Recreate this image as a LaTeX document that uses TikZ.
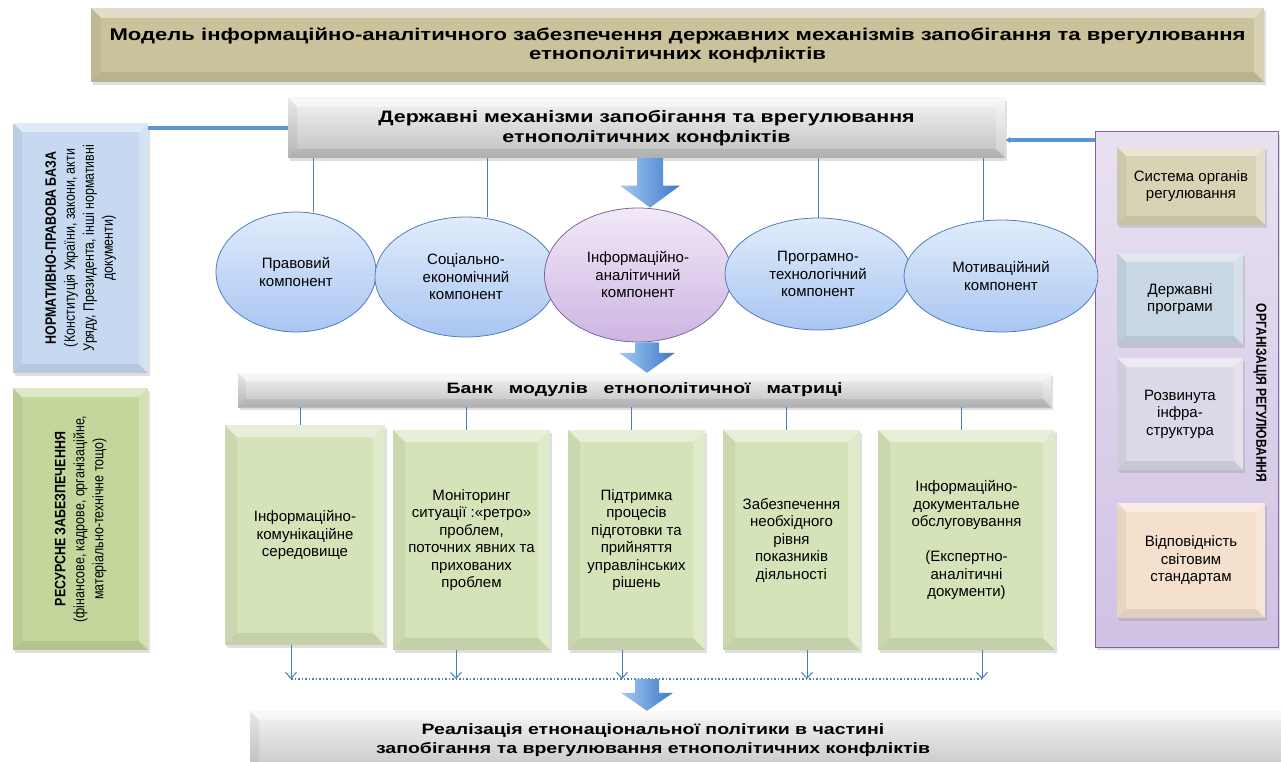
\documentclass[tikz,border=0pt]{standalone}
\usepackage{fontspec}
\setmainfont{Liberation Sans}
\newfontfamily\wideb[FakeStretch=1.3]{Liberation Sans}
\newfontfamily\narr[FakeStretch=0.83]{Liberation Sans}
\usetikzlibrary{shadows,arrows.meta,shapes.geometric,calc}

\definecolor{khaki}{HTML}{C9C29B}
\definecolor{greyt}{HTML}{F4F4F4}
\definecolor{greyb}{HTML}{BFBFBF}
\definecolor{lblue}{HTML}{C6D9F1}
\definecolor{lgreen}{HTML}{C3D69B}
\definecolor{mgreen}{HTML}{D5E3B9}
\definecolor{pant}{HTML}{E9E1F2}
\definecolor{panb}{HTML}{CFC2E4}
\definecolor{purp}{HTML}{8064A2}
\definecolor{rone}{HTML}{D9D3B6}
\definecolor{rtwo}{HTML}{C9D6E4}
\definecolor{rthree}{HTML}{DCD8E8}
\definecolor{rfour}{HTML}{F5E0CD}
\definecolor{ellt}{HTML}{E1ECFB}
\definecolor{ellb}{HTML}{A9C6F2}
\definecolor{elld}{HTML}{4F7EC0}
\definecolor{infot}{HTML}{F1E9F7}
\definecolor{infob}{HTML}{CDB5E3}
\definecolor{lineblue}{HTML}{4A7EBB}
\definecolor{thickblue}{HTML}{5B95D5}
\definecolor{arrl}{HTML}{A4CAF4}
\definecolor{arrd}{HTML}{3D78C6}

\newcommand\titlef{\wideb\fontsize{17}{19}\selectfont\bfseries}
\newcommand\mechf{\wideb\fontsize{16.5}{20}\selectfont\bfseries}
\newcommand\bankf{\wideb\fontsize{15}{18}\selectfont\bfseries}
\newcommand\botf{\wideb\fontsize{15}{18.5}\selectfont\bfseries}
\newcommand\regf{\fontsize{15}{17.5}\selectfont}
\newcommand\rotf{\narr\fontsize{15}{19}\selectfont}
\newcommand\orgf{\narr\fontsize{14.5}{17}\selectfont\bfseries}

\newcommand\bevelbands[1]{%
 \fill[white,opacity=.45] (path picture bounding box.north west) -- (path picture bounding box.north east) -- ([shift={(-#1,#1)}]path picture bounding box.north east) -- ([shift={(#1,#1)}]path picture bounding box.north west) -- cycle;
 \fill[black,opacity=.05] (path picture bounding box.north west) -- ([shift={(#1,#1)}]path picture bounding box.north west) -- ([shift={(#1,-#1)}]path picture bounding box.south west) -- (path picture bounding box.south west) -- cycle;
 \fill[black,opacity=.08] (path picture bounding box.south west) -- ([shift={(#1,-#1)}]path picture bounding box.south west) -- ([shift={(-#1,-#1)}]path picture bounding box.south east) -- (path picture bounding box.south east) -- cycle;
 \fill[white,opacity=.25] (path picture bounding box.north east) -- ([shift={(-#1,#1)}]path picture bounding box.north east) -- ([shift={(-#1,-#1)}]path picture bounding box.south east) -- (path picture bounding box.south east) -- cycle;
}

\newcommand\bigarr[5]{%
 \path[bigarrow] let \p1=#1, \p2=#2 in
 (\x1-#5pt,\y1) -- (\x1+#5pt,\y1) -- (\x1+#5pt,\y2+#3pt) -- (\x1+#4pt,\y2+#3pt) -- (\x1,\y2) -- (\x1-#4pt,\y2+#3pt) -- (\x1-#5pt,\y2+#3pt) -- cycle;}

\tikzset{
 box/.style={rectangle, inner sep=0pt, align=center, drop shadow={opacity=.25,shadow xshift=2pt,shadow yshift=-3pt}},
 bevel/.style={path picture={\bevelbands{#1}}}, bevel/.default=9,
 ell/.style={ellipse, draw=elld, line width=.8pt, top color=ellt, bottom color=ellb, inner sep=0pt, align=center, font=\regf},
 thinline/.style={draw=lineblue, line width=1pt},
 thickline/.style={draw=thickblue, line width=3.5pt},
 dotline/.style={draw=lineblue, line width=1.5pt, dotted},
 bigarrow/.style={left color=arrl, right color=arrd, draw=none},
 downtip/.style={-{Straight Barb[length=6pt,width=11pt]}}
}

\begin{document}
\begin{tikzpicture}[x=1pt,y=-1pt]
\useasboundingbox (0,0) rectangle (1281,762);

% title
\node[box,bevel=10,fill=khaki,minimum width=1173pt,minimum height=74pt,font=\titlef] (title) at (677.5,45)
 {Модель інформаційно-аналітичного забезпечення державних механізмів запобігання та врегулювання\\етнополітичних конфліктів};

% mechanisms
\node[box,bevel=9,top color=greyt,bottom color=greyb,minimum width=717pt,minimum height=60pt,font=\mechf] (mech) at (646.5,128)
 {Державні механізми запобігання та врегулювання\\етнополітичних конфліктів};

% left boxes
\node[box,bevel=9,fill=lblue,minimum width=135pt,minimum height=250pt] (L1) at (80.5,248)
 {\rotatebox{90}{\rotf\begin{tabular}{@{}c@{}}\bfseries НОРМАТИВНО-ПРАВОВА БАЗА\\(Конституція України, закони, акти\\Уряду, Президента, інші нормативні\\документи)\end{tabular}}};
\node[box,bevel=9,fill=lgreen,minimum width=135pt,minimum height=262pt] (L2) at (80.5,519)
 {\rotatebox{90}{\rotf\begin{tabular}{@{}c@{}}\bfseries РЕСУРСНЕ ЗАБЕЗПЕЧЕННЯ\\(фінансове, кадрове, організаційне,\\матеріально-технічне тощо)\end{tabular}}};

% right panel
\node[box,draw=purp,line width=1pt,top color=pant,bottom color=panb,minimum width=183pt,minimum height=515pt] (panel) at (1186.5,389.5) {};
\node[box,bevel=9,fill=rone,minimum width=148pt,minimum height=78pt,font=\regf] (R1) at (1191,186) {Система органів\\регулювання};
\node[box,bevel=9,fill=rtwo,minimum width=126pt,minimum height=92pt,font=\regf] (R2) at (1180,299) {Державні\\програми};
\node[box,bevel=9,fill=rthree,minimum width=126pt,minimum height=112pt,font=\regf] (R3) at (1180,414) {Розвинута\\інфра-\\структура};
\node[box,bevel=9,fill=rfour,minimum width=148pt,minimum height=115pt,font=\regf] (R4) at (1191,560.5) {Відповідність\\світовим\\стандартам};
\node[font=\orgf,rotate=-90,inner sep=0pt] (orgl) at (1260,393) {ОРГАНІЗАЦІЯ РЕГУЛЮВАННЯ};

% connectors from side boxes
\draw[thickline] (mech.west -| L1.east) -- (mech.west);
\draw[thickline,-{Latex[length=5pt,width=7pt]}] ([yshift=-12pt]mech.east -| panel.west) -- ([yshift=-12pt]mech.east);

% ellipses
\node[ell,minimum width=160pt,minimum height=120pt] (E1) at (296,272) {Правовий\\компонент};
\node[ell,minimum width=182pt,minimum height=120pt] (E2) at (466,277) {Соціально-\\економічний\\компонент};
\node[ell,draw=purp,top color=infot,bottom color=infob,minimum width=187pt,minimum height=134pt] (E3) at (638,275) {Інформаційно-\\аналітичний\\компонент};
\node[ell,minimum width=186pt,minimum height=112pt] (E4) at (818,274) {Програмно-\\технологічний\\компонент};
\node[ell,minimum width=194pt,minimum height=112pt] (E5) at (1001,276) {Мотиваційний\\компонент};

\coordinate (v1) at (313,0);
\coordinate (v2) at (487,0);
\coordinate (v4) at (818,0);
\coordinate (v5) at (983,0);
\draw[thinline] (mech.south -| v1) -- (E1.north -| v1);
\draw[thinline] (mech.south -| v2) -- (E2.north -| v2);
\draw[thinline] (mech.south -| v4) -- (E4.north);
\draw[thinline] (mech.south -| v5) -- (E5.north -| v5);

% bank
\node[box,bevel=8,top color=greyt,bottom color=greyb,minimum width=813pt,minimum height=34pt,font=\bankf] (bank) at (644.5,390)
 {Банк\hspace{16pt}модулів\hspace{16pt}етнополітичної\hspace{16pt}матриці};

% modules
\node[box,bevel=12,fill=mgreen,minimum width=160pt,minimum height=220pt,font=\regf] (M1) at (305,535)
 {Інформаційно-\\комунікаційне\\середовище};
\node[box,bevel=12,fill=mgreen,minimum width=157pt,minimum height=220pt,font=\regf] (M2) at (471.5,540)
 {Моніторинг\\ситуації :«ретро»\\проблем,\\поточних явних та\\прихованих\\проблем};
\node[box,bevel=12,fill=mgreen,minimum width=137pt,minimum height=220pt,font=\regf] (M3) at (636.5,540)
 {Підтримка\\процесів\\підготовки та\\прийняття\\управлінських\\рішень};
\node[box,bevel=12,fill=mgreen,minimum width=137pt,minimum height=220pt,font=\regf] (M4) at (791.5,540)
 {Забезпечення\\необхідного\\рівня\\показників\\діяльності};
\node[box,bevel=12,fill=mgreen,minimum width=177pt,minimum height=220pt,font=\regf] (M5) at (966.5,540)
 {Інформаційно-\\документальне\\обслуговування\\[17.5pt](Експертно-\\аналітичні\\документи)};

\foreach \n in {M1,M2,M3,M4,M5}
 \draw[thinline] ([xshift=-5pt]\n.north) -- ([xshift=-5pt]\n.north |- bank.south);

% dotted collector
\coordinate (dl) at (291,679);
\coordinate (dr) at (982,679);
\draw[dotline] (dl) -- (dr);
\foreach \n/\dx in {M1/-14,M2/-15.5,M3/-14.5,M4/15.5,M5/15.5}
 \draw[thinline,downtip] ([xshift=\dx pt]\n.south) -- ([xshift=\dx pt]\n.south |- dl);

% bottom bar
\node[box,bevel=9,top color=greyt,bottom color=greyb,minimum width=1040pt,minimum height=70pt] (bot) at (770,746) {};
\node[font=\botf,align=center,inner sep=0pt] (botl) at (653,740)
 {Реалізація етнонаціональної політики в частині\\запобігання та врегулювання етнополітичних конфліктів};

% big arrows
\coordinate (ax1) at (650,0);
\coordinate (ax2) at (647,0);
\coordinate (ax3) at (647,0);
\bigarr{(mech.south -| ax1)}{(E3.north -| ax1)}{22}{30}{13}
\bigarr{(E3.south -| ax2)}{(bank.north -| ax2)}{20}{28}{12}
\bigarr{(dl -| ax3)}{(bot.north -| ax3)}{18}{26}{12}
\end{tikzpicture}
\end{document}
